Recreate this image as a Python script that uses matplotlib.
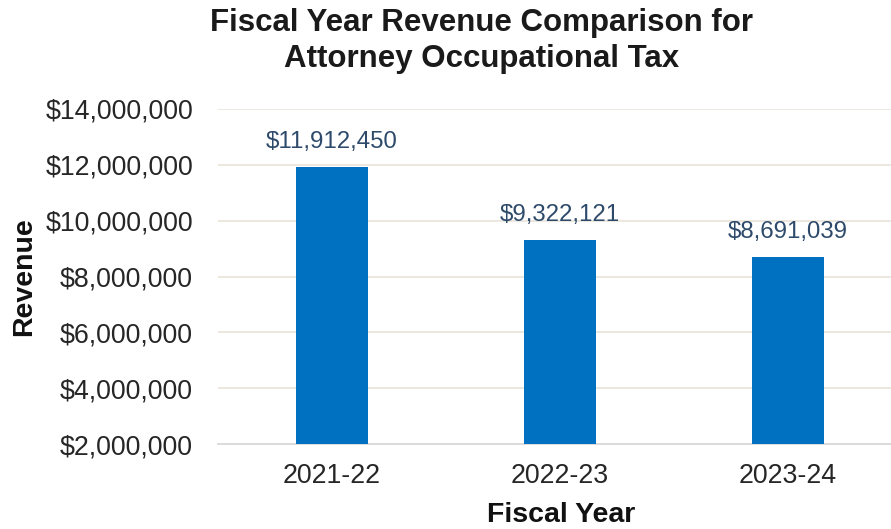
import matplotlib
matplotlib.use("Agg")
import matplotlib.pyplot as plt
from matplotlib.ticker import FuncFormatter

years = ["2021-22", "2022-23", "2023-24"]
revenue = [11912450, 9322121, 8691039]
yticks = [2000000, 4000000, 6000000, 8000000, 10000000, 12000000, 14000000]

plt.rcParams['font.family'] = ['Liberation Sans', 'DejaVu Sans']

W, H = 891, 529
fig = plt.figure(figsize=(W/100, H/100), dpi=100)
ax = fig.add_axes([218/W, 1-444/H, 1-218/W, (444-109)/H])

x = range(len(years))
bars = ax.bar(x, revenue, width=0.316, color="#0070C0", zorder=3)
ax.set_xlim(-0.5, (W-218)/228 - 0.5)
ax.set_ylim(2000000, 14000000)
ax.set_yticks(yticks)
ax.yaxis.set_major_formatter(FuncFormatter(lambda v, p: f"${v:,.0f}"))
ax.set_xticks(list(x))
ax.set_xticklabels(years)
ax.grid(axis='y', color="#EAE6DC", linewidth=1.3, zorder=0)
for s in ['top', 'right', 'left']:
    ax.spines[s].set_visible(False)
ax.spines['bottom'].set_color("#D9D9D9")
ax.spines['bottom'].set_linewidth(1.3)
ax.tick_params(axis='y', length=0, labelsize=19.3, colors="#262626", pad=18)
ax.tick_params(axis='x', length=0, labelsize=19.3, colors="#262626", pad=14)

for xi, v in zip(x, revenue):
    ax.text(xi, v + 500000, f"${v:,.0f}", ha='center', va='bottom', fontsize=17.3, color="#2E4A6B")

fig.text(482/W, 1-41/H, "Fiscal Year Revenue Comparison for\nAttorney Occupational Tax",
         ha='center', va='center', fontsize=22.5, fontweight='bold', color="#1a1a1a", linespacing=1.25)
fig.text(561/W, 1-515/H, "Fiscal Year", ha='center', va='center', fontsize=20.5, fontweight='bold', color="#111111")
fig.text(24/W, 1-277/H, "Revenue", ha='center', va='center', rotation=90, fontsize=20.5, fontweight='bold', color="#111111")

fig.savefig("out.png", dpi=100)
